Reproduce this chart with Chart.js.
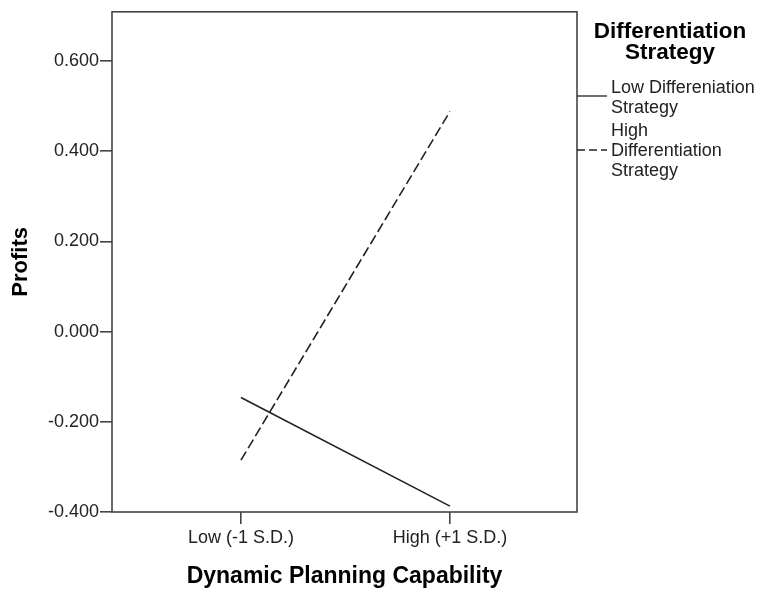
<!DOCTYPE html>
<html>
<head>
<meta charset="utf-8">
<script src="https://cdn.jsdelivr.net/npm/chart.js@4"></script>
<style>
  body { margin: 0; background: #fff; }
  #wrap { width: 767px; height: 590px; }
</style>
</head>
<body>
<div id="wrap"><canvas id="chart" width="767" height="590"></canvas></div>
<script>
// categories on the x axis
const categories = ['Low (-1 S.D.)', 'High (+1 S.D.)'];
// estimated profits for each group
const lowDiffValues = [-0.146, -0.387];
const highDiffValues = [-0.285, 0.488];
// tick labels shown on the y axis
const yTicks = [-0.4, -0.2, 0, 0.2, 0.4, 0.6];
// legend text (already split into lines like the original)
const legendTitle = ['Differentiation', 'Strategy'];
const seriesNames = [
    ['Low Differeniation', 'Strategy'],
    ['High', 'Differentiation', 'Strategy']
];

const FONT = '"Liberation Sans", Arial, sans-serif';

// box round the plot area
const frame = {
    id: 'frame',
    beforeDatasetsDraw(chart) {
        const { ctx, chartArea: a } = chart;
        ctx.save();
        ctx.strokeStyle = '#444';
        ctx.lineWidth = 1.6;
        ctx.strokeRect(a.left, a.top, a.right - a.left, a.bottom - a.top);
        ctx.restore();
    }
};

// SPSS style legend on the right
const sideLegend = {
    id: 'sideLegend',
    afterDraw(chart) {
        const { ctx, chartArea: a } = chart;
        ctx.save();
        ctx.fillStyle = '#000';
        ctx.font = 'bold 22.5px ' + FONT;
        ctx.textAlign = 'center';
        ctx.textBaseline = 'middle';
        legendTitle.forEach((t, i) => ctx.fillText(t, 670, 32 + i * 21));

        const starts = [88, 131];
        const sampleY = [96, 150];
        ctx.font = '18px ' + FONT;
        ctx.textAlign = 'left';
        ctx.fillStyle = '#222';
        seriesNames.forEach((lines, i) => {
            lines.forEach((t, j) => ctx.fillText(t, 611, starts[i] + j * 20));
            const ds = chart.data.datasets[i];
            ctx.strokeStyle = '#222';
            ctx.lineWidth = 1.3;
            ctx.setLineDash(ds.borderDash ? [8, 4] : []);
            ctx.beginPath();
            ctx.moveTo(a.right, sampleY[i]);
            ctx.lineTo(607, sampleY[i]);
            ctx.stroke();
        });
        ctx.restore();
    }
};

new Chart(document.getElementById('chart'), {
    type: 'line',
    data: {
        datasets: [
            {
                label: seriesNames[0].join(' '),
                data: lowDiffValues.map((v, i) => ({ x: i, y: v })),
                borderColor: '#222',
                borderWidth: 1.6,
                pointRadius: 0,
                tension: 0
            },
            {
                label: seriesNames[1].join(' '),
                data: highDiffValues.map((v, i) => ({ x: i, y: v })),
                borderColor: '#222',
                borderWidth: 1.6,
                borderDash: [10, 4],
                pointRadius: 0,
                tension: 0
            }
        ]
    },
    options: {
        responsive: false,
        animation: false,
        layout: { padding: { top: 11, right: 190, bottom: 0, left: 0 } },
        plugins: {
            legend: { display: false },
            tooltip: { enabled: false }
        },
        scales: {
            x: {
                type: 'linear',
                min: -0.617,
                max: 1.608,
                border: { display: false },
                grid: { drawOnChartArea: false, drawTicks: true, tickLength: 12, color: '#444', lineWidth: 1.6 },
                afterBuildTicks(scale) {
                    scale.ticks = categories.map((c, i) => ({ value: i }));
                },
                afterFit(scale) { scale.height = 78; },
                ticks: {
                    autoSkip: false,
                    maxRotation: 0,
                    padding: 3,
                    color: '#222',
                    font: { family: FONT, size: 18 },
                    callback: (v) => categories[v]
                },
                title: {
                    display: true,
                    text: 'Dynamic Planning Capability',
                    color: '#000',
                    font: { family: FONT, size: 23, weight: 'bold' },
                    padding: { top: 0, bottom: 0 }
                }
            },
            y: {
                type: 'linear',
                min: -0.4,
                max: 0.709,
                border: { display: false },
                grid: { drawOnChartArea: false, drawTicks: true, tickLength: 12, color: '#444', lineWidth: 1.6 },
                afterBuildTicks(scale) {
                    scale.ticks = yTicks.map(v => ({ value: v }));
                },
                afterFit(scale) { scale.width = 112; },
                ticks: {
                    padding: 1,
                    color: '#222',
                    font: { family: FONT, size: 18 },
                    callback: (v) => v.toFixed(3)
                },
                title: {
                    display: true,
                    text: 'Profits',
                    color: '#000',
                    font: { family: FONT, size: 22, weight: 'bold' },
                    padding: { top: 8, bottom: 0 }
                }
            }
        }
    },
    plugins: [frame, sideLegend]
});
</script>
</body>
</html>
